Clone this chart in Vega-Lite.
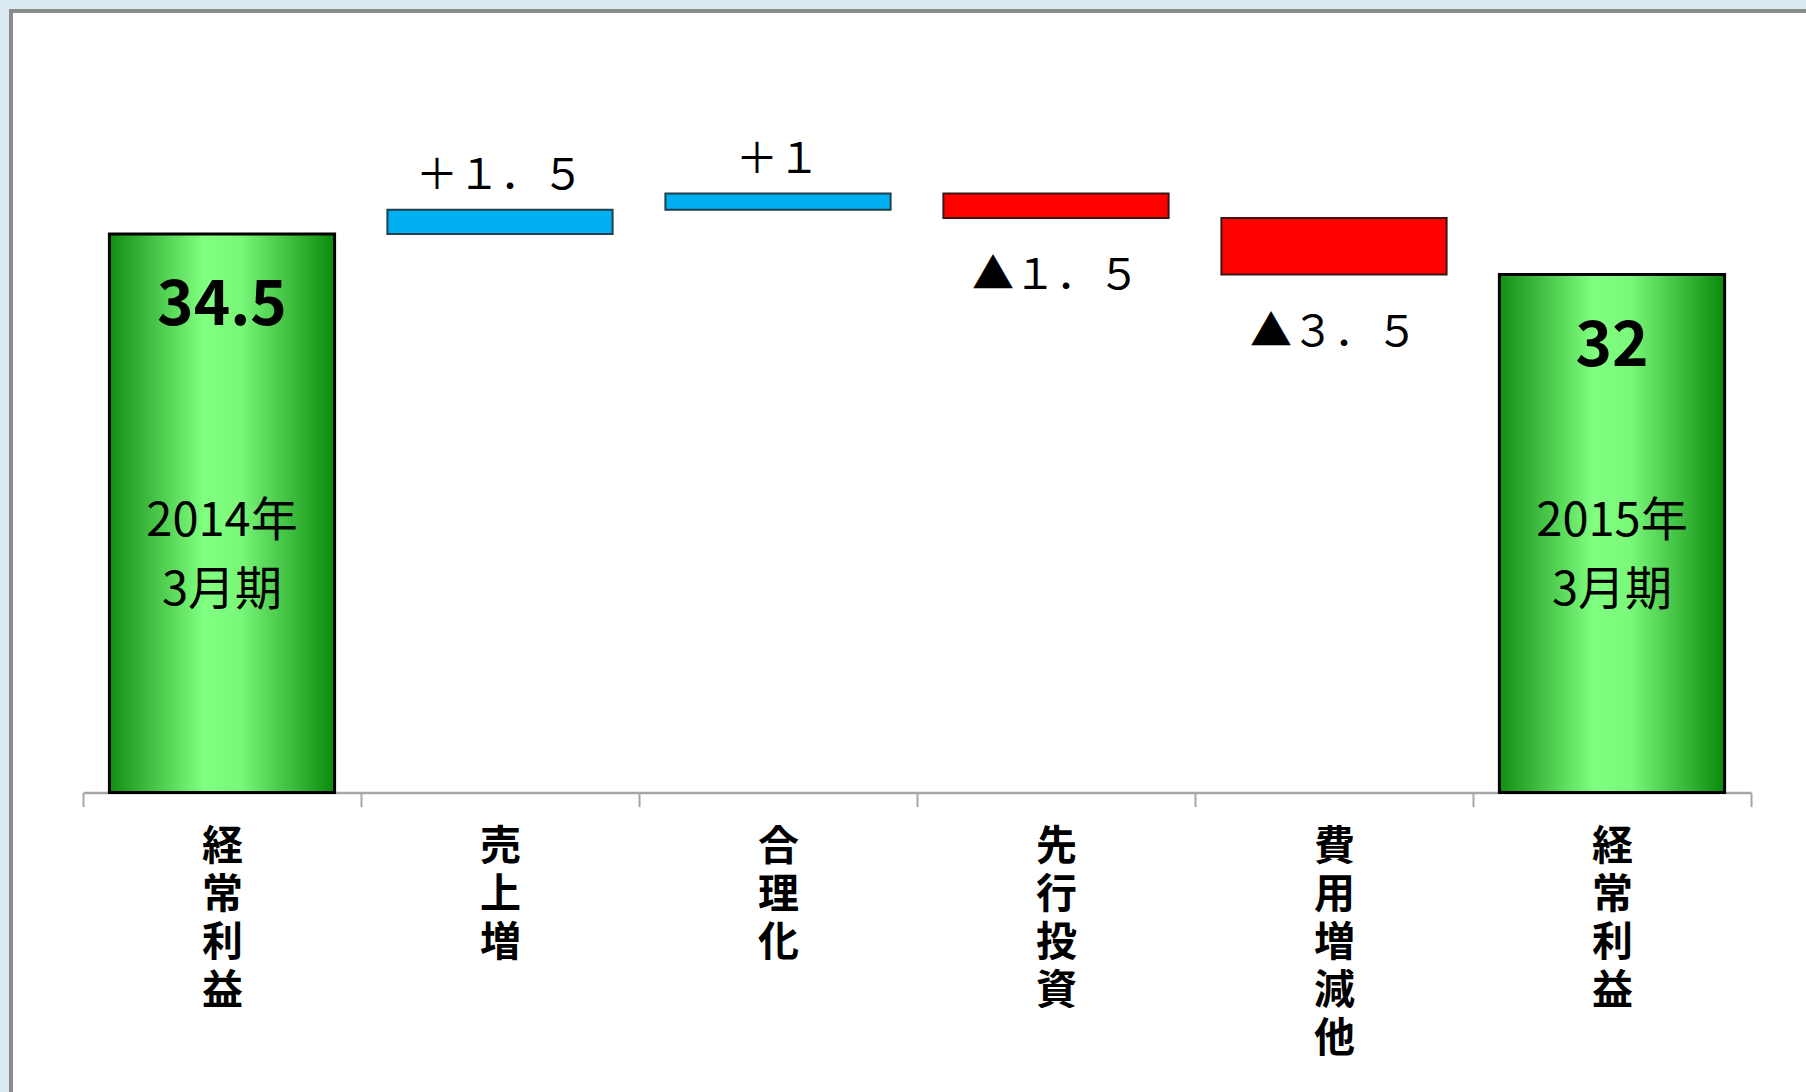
{
  "$schema": "https://vega.github.io/schema/vega-lite/v6.json",
  "autosize": {"type": "none"},
  "padding": {"left": 11, "top": 11, "right": -6, "bottom": -6},
  "width": 1801,
  "height": 1087,
  "background": "#DAEBF2",
  "config": {
    "view": {"fill": "white", "stroke": "#8C8C8C", "strokeWidth": 4},
    "font": "Noto Sans CJK JP"
  },
  "data": {
    "values": [
      {"item": "経常利益|2014", "kind": "total", "start": 0, "end": 34.5, "label": "34.5", "period": "2014年\n3月期"},
      {"item": "売上増", "kind": "up", "start": 34.5, "end": 36, "label": "＋１．５", "period": ""},
      {"item": "合理化", "kind": "up", "start": 36, "end": 37, "label": "＋１", "period": ""},
      {"item": "先行投資", "kind": "down", "start": 37, "end": 35.5, "label": "▲１．５", "period": ""},
      {"item": "費用増減他", "kind": "down", "start": 35.5, "end": 32, "label": "▲３．５", "period": ""},
      {"item": "経常利益|2015", "kind": "total", "start": 0, "end": 32, "label": "32", "period": "2015年\n3月期"}
    ]
  },
  "encoding": {
    "x": {
      "field": "item",
      "type": "nominal",
      "sort": ["経常利益|2014", "売上増", "合理化", "先行投資", "費用増減他", "経常利益|2015"],
      "scale": {"range": [72, 1740], "paddingInner": 0, "paddingOuter": 0},
      "axis": {
        "title": null,
        "offset": -305.4,
        "labelAngle": 0,
        "labelExpr": "datum.value ? split(split(datum.value, '|')[0], '') : ''",
        "labelBaseline": "top",
        "labelPadding": 21,
        "labelFontSize": 41,
        "labelFontWeight": "bold",
        "labelLineHeight": 48,
        "labelColor": "black",
        "labelFont": "Noto Sans CJK JP",
        "labelOverlap": false,
        "labelLimit": 0,
        "domainColor": "#A6A6A6",
        "domainWidth": 2.5,
        "tickColor": "#A6A6A6",
        "tickWidth": 2,
        "tickSize": 14,
        "tickBand": "extent",
        "grid": false
      }
    }
  },
  "layer": [
    {
      "transform": [{"filter": "datum.kind === 'total'"}],
      "mark": {
        "type": "bar",
        "width": {"band": 0.81},
        "stroke": "black",
        "strokeWidth": 3,
        "color": {
          "gradient": "linear",
          "x1": 0, "x2": 1, "y1": 0, "y2": 0,
          "stops": [
            {"offset": 0, "color": "#128E12"},
            {"offset": 0.42, "color": "#80FF80"},
            {"offset": 0.58, "color": "#7AF87A"},
            {"offset": 1, "color": "#0A8A0A"}
          ]
        }
      },
      "encoding": {
        "y": {"field": "start", "type": "quantitative", "scale": {"domain": [0, 48.28], "range": [781.6, 0], "nice": false, "zero": true}, "axis": null},
        "y2": {"field": "end"}
      }
    },
    {
      "transform": [{"filter": "datum.kind === 'up'"}],
      "mark": {"type": "bar", "width": {"band": 0.81}, "color": "#00B0F0", "stroke": "#1F3F4A", "strokeWidth": 2},
      "encoding": {
        "y": {"field": "start", "type": "quantitative"},
        "y2": {"field": "end"}
      }
    },
    {
      "transform": [{"filter": "datum.kind === 'down'"}],
      "mark": {"type": "bar", "width": {"band": 0.81}, "color": "#FF0000", "stroke": "#3A1414", "strokeWidth": 2},
      "encoding": {
        "y": {"field": "start", "type": "quantitative"},
        "y2": {"field": "end"}
      }
    },
    {
      "transform": [{"filter": "datum.kind === 'total'"}],
      "mark": {"type": "text", "fontSize": 62, "fontWeight": "bold", "font": "Noto Sans CJK JP", "color": "black", "baseline": "middle", "dy": 72},
      "encoding": {
        "y": {"field": "end", "type": "quantitative"},
        "text": {"field": "label"}
      }
    },
    {
      "transform": [{"filter": "datum.kind === 'total'"}],
      "mark": {"type": "text", "fontSize": 47, "font": "Noto Sans CJK JP", "color": "black", "baseline": "middle", "lineBreak": "\n", "lineHeight": 69},
      "encoding": {
        "y": {"datum": 16.7, "type": "quantitative"},
        "text": {"field": "period"}
      }
    },
    {
      "transform": [{"filter": "datum.kind === 'up'"}],
      "mark": {"type": "text", "fontSize": 42, "font": "Noto Sans CJK JP", "color": "black", "baseline": "middle", "dy": -34},
      "encoding": {
        "y": {"field": "end", "type": "quantitative"},
        "text": {"field": "label"}
      }
    },
    {
      "transform": [{"filter": "datum.kind === 'down'"}],
      "mark": {"type": "text", "fontSize": 42, "font": "Noto Sans CJK JP", "color": "black", "baseline": "middle", "dy": 58},
      "encoding": {
        "y": {"field": "end", "type": "quantitative"},
        "text": {"field": "label"}
      }
    }
  ]
}
